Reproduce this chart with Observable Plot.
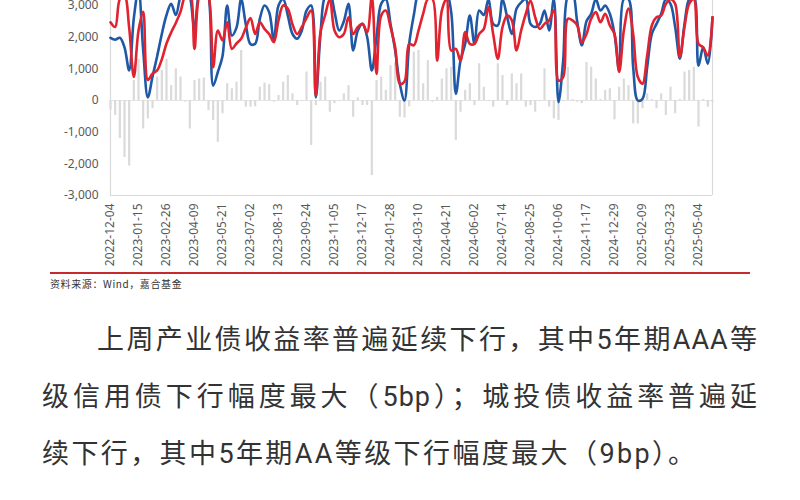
<!DOCTYPE html>
<html>
<head>
<meta charset="utf-8">
<script src="https://cdn.jsdelivr.net/npm/d3@7"></script>
<script src="https://cdn.jsdelivr.net/npm/@observablehq/plot@0.6"></script>
<style>
  html, body { margin: 0; padding: 0; background: #fff; width: 800px; height: 500px; overflow: hidden; position: relative; }
  #chart { position: absolute; left: 0; top: -35px; }
  .redline { position: absolute; left: 50px; top: 272px; width: 700px; height: 2px; background: #c42a2e; }
  .source { position: absolute; left: 50px; top: 277px; font-family: "Noto Sans CJK SC", sans-serif; font-size: 10px; letter-spacing: 0.6px; color: #333; line-height: 14px; }
  .para { position: absolute; left: 42px; width: 716px; font-family: Roboto, "Noto Sans CJK SC", sans-serif; font-size: 27px; line-height: 30px; color: #333; white-space: nowrap; letter-spacing: 2.4px; }
  .just { text-align: justify; text-align-last: justify; white-space: normal; letter-spacing: 1px; }
</style>
</head>
<body>
<div id="chart"></div>
<div class="redline"></div>
<div class="source">资料来源：Wind，嘉合基金</div>
<div class="para just" style="top:325px; padding-left:55px; width:661px;">上周产业债收益率普遍延续下行，其中5年期AAA等</div>
<div class="para just" style="top:382px;">级信用债下行幅度最大（5bp）；城投债收益率普遍延</div>
<div class="para" style="top:439px;">续下行，其中5年期AA等级下行幅度最大（9bp）。</div>
<script>
// weekly observations starting 2022-12-04
const startDate = "2022-12-04";
const tickLabels = ["2022-12-04","2023-01-15","2023-02-26","2023-04-09","2023-05-21","2023-07-02","2023-08-13","2023-09-24","2023-11-05","2023-12-17","2024-01-28","2024-03-10","2024-04-21","2024-06-02","2024-07-14","2024-08-25","2024-10-06","2024-11-17","2024-12-29","2025-02-09","2025-03-23","2025-05-04"];
const yTicks = [-3000, -2000, -1000, 0, 1000, 2000, 3000];

const bars = [
  -300, -470, -1200, -1800, -2070, 630, 1300, -900, -580, -260,
  740, 950, 1300, 470, 1000, 740, -50, -900, 630, 680,
  710, -320, -630, -1320, -420, 530, 370, 580, 1580, -210,
  -210, -200, 420, 550, 500, -50, 160, 580, 790, 210,
  -160, -30, 900, -1420, -160, 580, 740, -370, -100, -30,
  210, 470, -530, 80, -160, -160, -2370, 630, 740, 320,
  1100, 1200, -530, -550, -200, 1530, 1580, 530, 1260, -50,
  100, 680, 1000, 1050, -1260, -370, 320, 530, -160, 1160,
  420, -30, -210, 1160, 790, -160, 840, 530, 840, -210,
  -160, -370, -30, 1000, -210, -580, -630, -30, 1050, 30,
  -50, -100, 1200, 1050, 680, 30, 320, 370, -610, 420,
  680, 470, -740, -740, -260, 210, 30, -260, 210, -470,
  420, -420, 30, 900, 950, 1050, -840, 30, -210, -60
];

const blueLine = [
  1980, 1920, 1980, 1680, 950, 2600, 3500, 1600, 100, 750,
  1400, 2100, 2700, 3050, 2700, 3300, 3600, 3300, 2250, 3400,
  3600, 3300, 470, 900, 1400, 3000, 2050, 2300, 3200, 2400,
  1780, 1790, 2580, 3000, 2790, 1900, 3000, 3200, 2680, 2100,
  1950, 2210, 2840, 3000, 100, 2100, 3300, 3400, 2800, 2210,
  2500, 3050, 1580, 2210, 2420, 2000, 950, 2000, 3050, 3200,
  2420, 1580, 530, 0, 1790, 2700, 3400, 3500, 3600, 3400,
  3500, 3300, 3400, 2800, 210, 1260, 1790, 2680, 1790, 2840,
  2700, 3200, 2420, 2370, 3200, 2630, 2100, 2900, 3100, 3200,
  2420, 2320, 2420, 2840, 2210, 3200, -50, 1260, 3300, 3400,
  2500, 1740, 2500, 2740, 3200, 2840, 3000, 2740, 2100, 950,
  3200, 3200, 1050, 0, 50, 1050, 2100, 2420, 2740, 3200,
  3050, 2320, 1320, 2420, 3200, 3300, 1100, 1680, 1160, 2630
];

const redLine = [
  2470, 2320, 3200, 3300, 2300, 740, 2200, 2800, 650, 850,
  950, 1300, 1800, 2150, 2450, 2800, 3300, 3400, 1630, 3300,
  3500, 3300, 1050, 2210, 1900, 2470, 1630, 1800, 1950, 2300,
  2600, 2100, 2470, 2260, 2100, 1840, 2530, 3000, 2900, 2400,
  2100, 2320, 2600, 2840, 160, 2160, 2700, 3200, 2210, 2000,
  2100, 2630, 2100, 2320, 2420, 2160, 3300, 840, 2680, 2840,
  2320, 1680, 530, 600, 1790, 1740, 2210, 2740, 3200, 3200,
  1260, 2840, 3200, 1580, 1630, 1260, 2160, 1790, 1790, 2100,
  2260, 2950, 2100, 1320, 2320, 2680, 2530, 1580, 2210, 2740,
  3150, 2630, 2260, 2420, 2530, 2840, 630, 740, 2580, 2530,
  2370, 1840, 2100, 2580, 2790, 2470, 2740, 2370, 2100, 900,
  2210, 2900, 2100, 740, 530, 1420, 2370, 2630, 2680, 3050,
  3200, 3050, 1370, 2320, 3050, 3200, 1790, 1680, 1420, 2630
];

const parseDate = d3.utcParse("%Y-%m-%d");
const start = parseDate(startDate);
const data = blueLine.map((v, i) => ({
  date: d3.utcDay.offset(start, i * 7),
  bar: bars[i],
  blue: v,
  red: redLine[i]
}));
const first = data[0].date, last = data[data.length - 1].date;

const fmt = d3.formatLocale({decimal: ".", thousands: ",", grouping: [3], currency: ["", ""], minus: "-"}).format(",");

const chart = Plot.plot({
  width: 800,
  height: 300,
  marginLeft: 110,
  marginRight: 88,
  marginTop: 40,
  marginBottom: 70,
  style: {fontFamily: "'Noto Sans', sans-serif", fontSize: "12px", color: "#595959", background: "transparent", overflow: "visible"},
  x: {type: "utc", domain: [first, last]},
  y: {domain: [-3000, 3000]},
  marks: [
    Plot.ruleY([0], {stroke: "#e4e4e4", strokeWidth: 1}),
    Plot.ruleX(data, {x: "date", y1: 0, y2: "bar", stroke: "#dadada", strokeWidth: 2.2}),
    Plot.ruleX([first, last], {y1: -3000, y2: 4300, stroke: "#d9d9d9", strokeWidth: 1.2}),
    Plot.ruleY([-3000], {stroke: "#d9d9d9", strokeWidth: 1.2}),
    Plot.line(data, {x: "date", y: "blue", stroke: "#1f59a6", strokeWidth: 2.6, curve: "catmull-rom"}),
    Plot.line(data, {x: "date", y: "red", stroke: "#e1232f", strokeWidth: 2.6, curve: "catmull-rom"}),
    Plot.axisY({ticks: yTicks, tickFormat: fmt, tickSize: 0, tickPadding: 12, label: null, fontSize: 12}),
    Plot.axisX({ticks: tickLabels.map(parseDate), tickFormat: d3.utcFormat("%Y-%m-%d"), tickRotate: -90, tickSize: 0, tickPadding: 8, label: null, fontSize: 12})
  ]
});
document.getElementById("chart").appendChild(chart);
</script>
</body>
</html>
